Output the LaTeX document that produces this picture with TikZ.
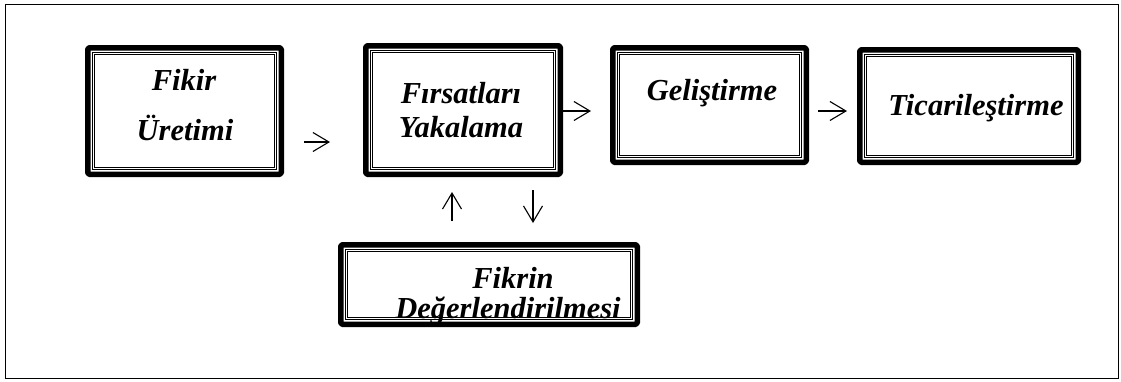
\documentclass[tikz,border=0pt]{standalone}
\usepackage{fontspec}
\setmainfont{Liberation Serif}
\usetikzlibrary{arrows.meta}
\begin{document}
\begin{tikzpicture}[x=1pt,y=-1pt,
  framebox/.style={draw, line width=5.5pt, line join=round, rounded corners=1.5pt,
    inner sep=0pt, outer sep=0pt, fill=white},
  innerline/.style={draw, line width=1pt, double distance=1pt},
  lbl/.style={anchor=base, inner sep=0pt, text height=21pt, text depth=6pt,
    font=\fontsize{30.5}{36}\selectfont\bfseries\itshape},
  arr/.style={line width=1.1pt, -{Straight Barb[length=16pt,width=19pt,line width=1.1pt]}}]
  % page and outer frame
  \useasboundingbox (0,0) rectangle (1121,381);
  \draw[line width=1.6pt] (5.5,4.5) rectangle (1118.5,378.5);

  % boxes
  \node[framebox, minimum width=193.5pt, minimum height=126.5pt] (b1) at (184.5,111) {};
  \node[framebox, minimum width=194.5pt, minimum height=128.5pt] (b2) at (463,110) {};
  \node[framebox, minimum width=193.5pt, minimum height=114.5pt] (b3) at (709.5,105) {};
  \node[framebox, minimum width=218.5pt, minimum height=112.5pt] (b4) at (969,106) {};
  \node[framebox, minimum width=296.5pt, minimum height=79.5pt] (b5) at (489,284.5) {};
  \foreach \b in {b1,b2,b3,b4,b5}
    \draw[innerline] ([shift={(5.3pt,-5.3pt)}]\b.north west) rectangle ([shift={(-5.3pt,5.3pt)}]\b.south east);

  % labels
  \node[lbl] (t1a) at (184,90) {Fikir};
  \node[lbl] (t1b) at (185,140) {Üretimi};
  \node[lbl] (t2a) at (461,103) {Fırsatları};
  \node[lbl] (t2b) at (461,137) {Yakalama};
  \node[lbl] (t3) at (712,100) {Geliştirme};
  \node[lbl] (t4) at (976,115) {Ticarileştirme};
  \node[lbl] (t5a) at (513,288) {Fikrin};
  \node[lbl] (t5b) at (508,318) {Değerlendirilmesi};

  % arrow end points
  \coordinate (a1s) at (304,142);
  \coordinate (a1e) at (330,142);
  \coordinate (a2e) at (591,111);
  \coordinate (a3s) at (818,111);
  \coordinate (a3e) at (847,111);
  \coordinate (upS) at (452,221);
  \coordinate (upE) at (452,192);
  \coordinate (dnS) at (533,190);
  \coordinate (dnE) at (533,223);

  % connectors
  \draw[arr] (a1s) -- (a1e);
  \draw[arr] ([yshift=-1pt]b2.east) -- (a2e);
  \draw[arr] (a3s) -- (a3e);
  \draw[arr] (upS) -- (upE);
  \draw[arr] (dnS) -- (dnE);
\end{tikzpicture}
\end{document}
